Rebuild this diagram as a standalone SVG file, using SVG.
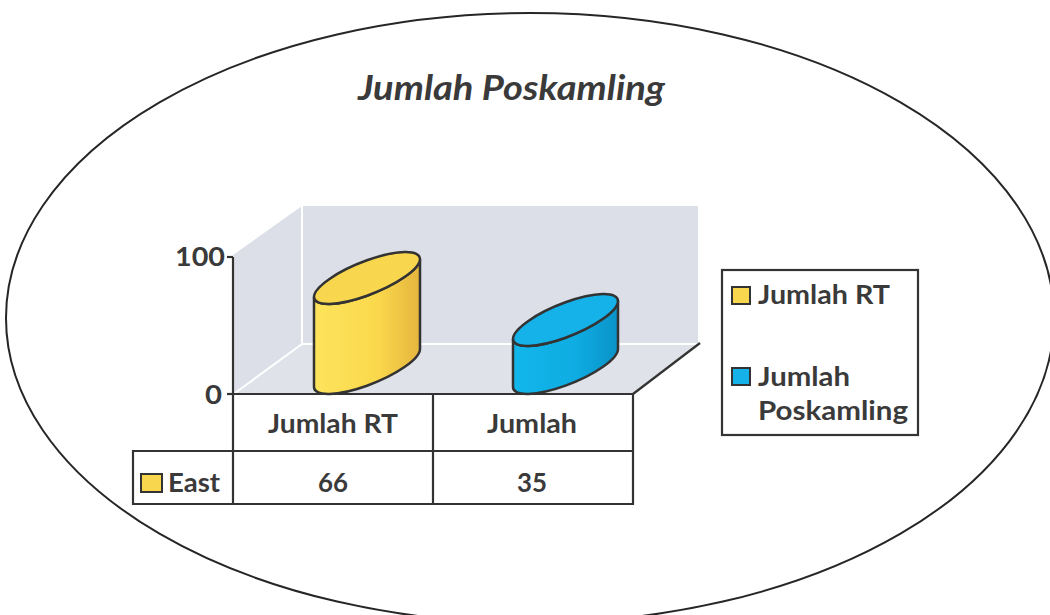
<svg xmlns="http://www.w3.org/2000/svg" width="1050" height="615" viewBox="0 0 1050 615">
<defs>
<style>
.t{font-family:Lato,"Liberation Sans",sans-serif;font-weight:bold;fill:#3a3a3a;}
.ln{stroke:#333;stroke-width:2.2;fill:none;}
.cyl{stroke:#333;stroke-width:2.5;}
.wall{fill:#dcdfe8;}
.wl{stroke:#ffffff;stroke-width:2;fill:none;}
</style>
<linearGradient id="gy" x1="0" y1="0" x2="1" y2="0">
<stop offset="0" stop-color="#fde45c"/>
<stop offset="0.6" stop-color="#fad84c"/>
<stop offset="1" stop-color="#e5b53e"/>
</linearGradient>
<linearGradient id="gb" x1="0" y1="0" x2="1" y2="0">
<stop offset="0" stop-color="#12b6ea"/>
<stop offset="0.6" stop-color="#0eace2"/>
<stop offset="1" stop-color="#0a93c8"/>
</linearGradient>
</defs>
<rect width="1050" height="615" fill="#ffffff"/>
<ellipse cx="530" cy="318" rx="524" ry="305" fill="none" stroke="#262626" stroke-width="2"/>
<text class="t" x="358" y="100" font-size="34" font-style="italic" textLength="307" lengthAdjust="spacingAndGlyphs">Jumlah Poskamling</text>
<g id="plot">
<polygon class="wall" points="302,206 698,206 698,344 302,344"/>
<polygon class="wall" points="233,255 302,206 302,344 233,394"/>
<polygon fill="#e0e2e9" points="233,394 302,344 700,344 633,394"/>
<polyline class="wl" points="302,206 302,344 700,344"/>
<line class="wl" x1="302" y1="344" x2="235" y2="393"/>
<line class="ln" x1="633" y1="394" x2="700" y2="343"/>
<line class="ln" x1="233" y1="257" x2="233" y2="394"/>
<line class="ln" x1="227" y1="257" x2="233" y2="257"/>
<line class="ln" x1="227" y1="394" x2="233" y2="394"/>
<text class="t" x="175" y="266" font-size="26" textLength="50" lengthAdjust="spacingAndGlyphs">100</text>
<text class="t" x="205" y="404" font-size="26" textLength="17" lengthAdjust="spacingAndGlyphs">0</text>
</g>
<g id="bar-rt">
<g transform="matrix(53,-19,0,17.7,367,278)">
<path d="M-1 0 L-1 5.085 A1 1 0 0 0 1 5.085 L1 0 A1 1 0 0 1 -1 0 Z" fill="url(#gy)" class="cyl" vector-effect="non-scaling-stroke"/>
<circle cx="0" cy="0" r="1" fill="#f8d64e" class="cyl" vector-effect="non-scaling-stroke"/>
</g>
</g>
<g id="bar-pos">
<g transform="matrix(52.5,-19,0,17.7,565.5,320)">
<path d="M-1 0 L-1 2.71 A1 1 0 0 0 1 2.71 L1 0 A1 1 0 0 1 -1 0 Z" fill="url(#gb)" class="cyl" vector-effect="non-scaling-stroke"/>
<circle cx="0" cy="0" r="1" fill="#14b2e8" class="cyl" vector-effect="non-scaling-stroke"/>
</g>
</g>
<g id="table">
<path class="ln" d="M233 394 H633 V504 H133 V451 H633 M233 394 V504 M433 394 V504" stroke-width="2.5"/>
<text class="t" x="268" y="433" font-size="26" textLength="130" lengthAdjust="spacingAndGlyphs">Jumlah RT</text>
<text class="t" x="487" y="433" font-size="26" textLength="90" lengthAdjust="spacingAndGlyphs">Jumlah</text>
<rect x="141" y="474" width="21" height="18" fill="#f8d64e" stroke="#333" stroke-width="2"/>
<text class="t" x="168" y="492" font-size="26" textLength="52" lengthAdjust="spacingAndGlyphs">East</text>
<text class="t" x="318" y="492" font-size="26" textLength="30" lengthAdjust="spacingAndGlyphs">66</text>
<text class="t" x="517" y="492" font-size="26" textLength="30" lengthAdjust="spacingAndGlyphs">35</text>
</g>
<g id="legend">
<rect x="722" y="270" width="196" height="165" fill="#ffffff" stroke="#333" stroke-width="2.2"/>
<rect x="732" y="287" width="18" height="17" fill="#f8d64e" stroke="#333" stroke-width="2"/>
<text class="t" x="758" y="304" font-size="26" textLength="132" lengthAdjust="spacingAndGlyphs">Jumlah RT</text>
<rect x="732" y="368" width="18" height="17" fill="#14b2e8" stroke="#333" stroke-width="2"/>
<text class="t" x="758" y="386" font-size="26" textLength="92" lengthAdjust="spacingAndGlyphs">Jumlah</text>
<text class="t" x="758" y="420" font-size="26" textLength="150" lengthAdjust="spacingAndGlyphs">Poskamling</text>
</g>
</svg>
